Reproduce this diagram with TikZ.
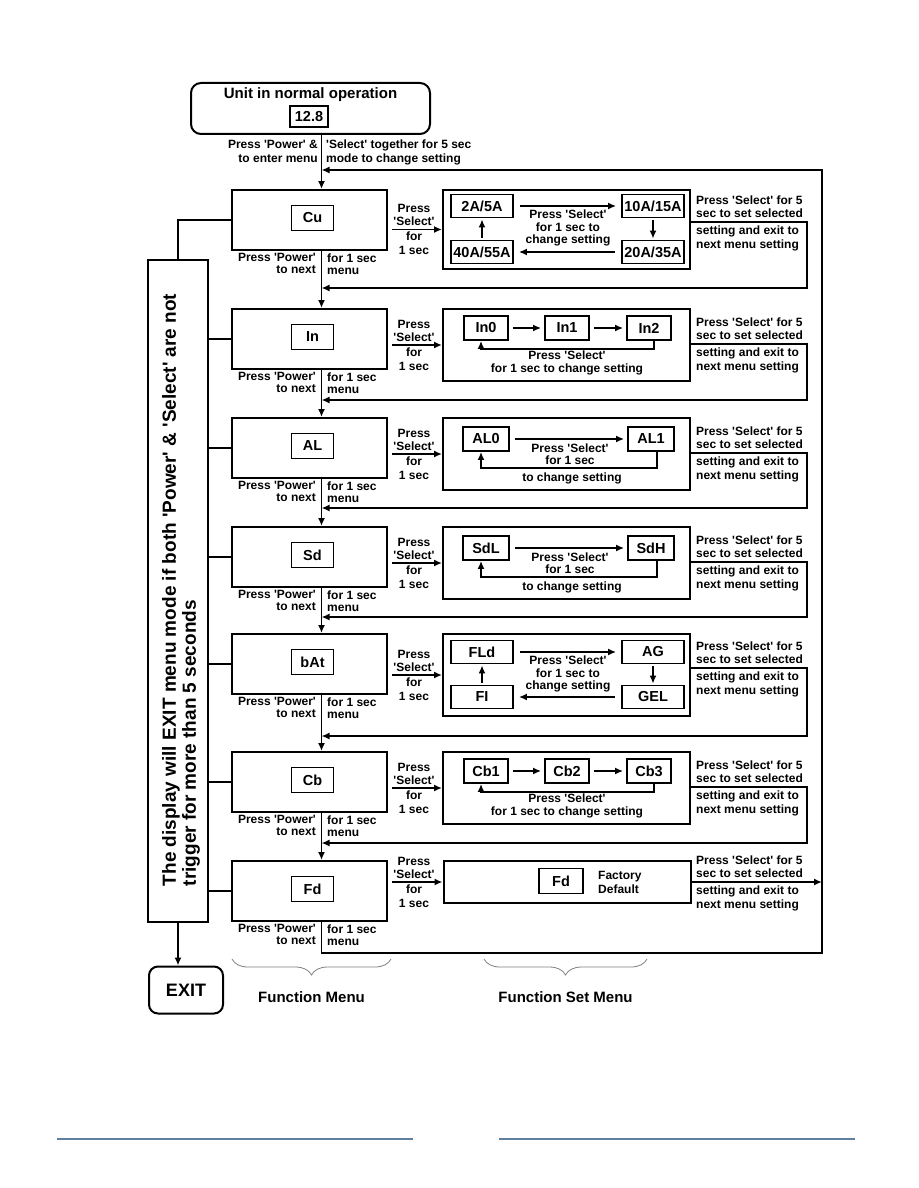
\documentclass[tikz,border=0pt]{standalone}
\usepackage{fontspec}
\setmainfont{Liberation Sans}[Ligatures=TeXOff]
\usetikzlibrary{arrows.meta,decorations.pathreplacing}
\definecolor{footblue}{HTML}{5F7F9F}

\begin{document}
\begin{tikzpicture}[x=1pt,y=-1pt,
  >={Latex[length=8pt,width=7pt]},
  line/.style={line width=1.8pt},
  conn/.style={line width=1.8pt,->},
  menubox/.style={draw,line width=2pt,minimum width=155pt,minimum height=60pt},
  setbox/.style={draw,line width=2pt,minimum width=247pt},
  valbox/.style={draw,line width=1.8pt,font=\fontsize{14.5}{16}\selectfont\bfseries,inner xsep=2pt,inner ysep=0pt,minimum height=23pt},
  note/.style={font=\fontsize{12}{13.5}\selectfont\bfseries,inner sep=0pt},
  tight/.style={font=\fontsize{12}{12}\selectfont\bfseries,inner sep=0pt},
  title/.style={font=\fontsize{15}{17}\selectfont\bfseries,inner sep=0pt},
  brace/.style={draw=gray,line width=0.8pt,decorate,decoration={brace,mirror,amplitude=16pt}}
]

\useasboundingbox (0,0) rectangle (918,1188);

\coordinate (spine) at (321.5,0);
\coordinate (rail) at (822,0);

% Unit in normal operation
\node[draw,line width=2pt,rounded corners=10pt,minimum width=239pt,minimum height=51pt] (unit) at (310.5,108.5) {};
\node[title] (unittxt) at (310.5,95) {Unit in normal operation};
\node[valbox,minimum width=38pt,minimum height=21pt] (unitval) at (309,116.5) {12.8};
\node[note,align=right,anchor=north east] (enterl) at (318,140) {Press 'Power' \&\\to enter menu};
\node[note,align=left,anchor=north west] (enterr) at (326,140) {'Select' together for 5 sec\\mode to change setting};

% Cu
\node[menubox] (menucu) at (309.5,220) {};
\node[valbox,minimum width=42pt,minimum height=25pt] (valcu) at (312.5,218) {Cu};
\node[tight,align=right,anchor=north east] (powcu) at (316,253.5) {Press 'Power'\\to next};
\node[tight,align=left,anchor=north west] (forcu) at (327,253.5) {for 1 sec\\menu};
\node[setbox,minimum height=79pt] (setcu) at (566.5,229.5) {};
\draw[conn] (menucu.east |- setcu.west) ++(4,0) -- (setcu.west);
\node[note,align=center,anchor=south] (selcu) at (414,226) {Press\\'Select'};
\node[note,align=center,anchor=north] (seccu) at (414,232) {for\\1 sec};
\node[valbox,minimum width=62pt] (cua) at (482,206) {2A/5A};
\node[valbox,minimum width=62pt] (cub) at (653,206) {10A/15A};
\node[valbox,minimum width=62pt] (cuc) at (653,252) {20A/35A};
\node[valbox,minimum width=62pt] (cud) at (482,252) {40A/55A};
\draw[conn,shorten <=6pt,shorten >=5pt] (cua) -- (cub);
\draw[conn,shorten <=2pt,shorten >=1pt] (cub) -- (cuc);
\draw[conn,shorten <=6pt,shorten >=5pt] (cuc) -- (cud);
\draw[conn,shorten <=2pt,shorten >=1pt] (cud) -- (cua);
\node[note,align=center,font=\fontsize{12}{12.5}\selectfont\bfseries] (txtcu) at (568,228) {Press 'Select'\\for 1 sec to\\change setting};
\node[note,align=left,anchor=south west] (holdcu) at (696,218) {Press 'Select' for 5\\sec to set selected};
\node[note,align=left,anchor=north west] (exitcu) at (696,226) {setting and exit to\\next menu setting};
\draw[conn] (setcu.east |- 0,222) -| (807,288) -- (spine |- 0,288);

% In
\node[menubox] (menuin) at (309.5,339) {};
\node[valbox,minimum width=42pt,minimum height=25pt] (valin) at (312.5,337) {In};
\node[tight,align=right,anchor=north east] (powin) at (316,372.5) {Press 'Power'\\to next};
\node[tight,align=left,anchor=north west] (forin) at (327,372.5) {for 1 sec\\menu};
\node[setbox,minimum height=72pt] (setin) at (566.5,345) {};
\draw[conn] (menuin.east |- setin.west) ++(4,0) -- (setin.west);
\node[note,align=center,anchor=south] (selin) at (414,342) {Press\\'Select'};
\node[note,align=center,anchor=north] (secin) at (414,348) {for\\1 sec};
\node[valbox,minimum width=44pt,minimum height=24pt] (in0) at (486,328) {In0};
\node[valbox,minimum width=44pt,minimum height=24pt] (in1) at (567,328) {In1};
\node[valbox,minimum width=44pt,minimum height=24pt] (in2) at (649,328) {In2};
\draw[conn,shorten <=4pt,shorten >=3pt] (in0) -- (in1);
\draw[conn,shorten <=4pt,shorten >=3pt] (in1) -- (in2);
\coordinate (inback) at ([xshift=5pt]in2.south);
\coordinate (inhome) at ([xshift=-5pt]in0.south);
\draw[conn] (inback) -- ++(0,8) -| (inhome);
\node[note] (txtin) at (567,355) {Press 'Select'};
\node[note] (txtin2) at (567,369) {for 1 sec to change setting};
\node[note,align=left,anchor=south west] (holdin) at (696,340) {Press 'Select' for 5\\sec to set selected};
\node[note,align=left,anchor=north west] (exitin) at (696,348) {setting and exit to\\next menu setting};
\draw[conn] (setin.east |- 0,344) -| (807,400) -- (spine |- 0,400);

% AL
\node[menubox] (menual) at (309.5,448) {};
\node[valbox,minimum width=42pt,minimum height=25pt] (valal) at (312.5,446) {AL};
\node[tight,align=right,anchor=north east] (powal) at (316,481.5) {Press 'Power'\\to next};
\node[tight,align=left,anchor=north west] (foral) at (327,481.5) {for 1 sec\\menu};
\node[setbox,minimum height=72pt] (setal) at (566.5,454) {};
\draw[conn] (menual.east |- setal.west) ++(4,0) -- (setal.west);
\node[note,align=center,anchor=south] (selal) at (414,451) {Press\\'Select'};
\node[note,align=center,anchor=north] (secal) at (414,457) {for\\1 sec};
\node[valbox,minimum width=46pt,minimum height=24pt] (al0) at (486,439) {AL0};
\node[valbox,minimum width=46pt,minimum height=24pt] (al1) at (651,439) {AL1};
\draw[conn,shorten <=5pt,shorten >=3pt] (al0) -- (al1);
\coordinate (alback) at ([xshift=6pt]al1.south);
\coordinate (alhome) at ([xshift=-5pt]al0.south);
\draw[conn] (alback) -- ++(0,16) -| (alhome);
\node[note,align=center,font=\fontsize{12}{12.5}\selectfont\bfseries] (txtal) at (570,454) {Press 'Select'\\for 1 sec};
\node[note] (txtal2) at (572,478.5) {to change setting};
\node[note,align=left,anchor=south west] (holdal) at (696,449) {Press 'Select' for 5\\sec to set selected};
\node[note,align=left,anchor=north west] (exital) at (696,457) {setting and exit to\\next menu setting};
\draw[conn] (setal.east |- 0,453) -| (807,508) -- (spine |- 0,508);

% Sd
\node[menubox] (menusd) at (309.5,557) {};
\node[valbox,minimum width=42pt,minimum height=25pt] (valsd) at (312.5,555) {Sd};
\node[tight,align=right,anchor=north east] (powsd) at (316,590.5) {Press 'Power'\\to next};
\node[tight,align=left,anchor=north west] (forsd) at (327,590.5) {for 1 sec\\menu};
\node[setbox,minimum height=72pt] (setsd) at (566.5,563) {};
\draw[conn] (menusd.east |- setsd.west) ++(4,0) -- (setsd.west);
\node[note,align=center,anchor=south] (selsd) at (414,560) {Press\\'Select'};
\node[note,align=center,anchor=north] (secsd) at (414,566) {for\\1 sec};
\node[valbox,minimum width=46pt,minimum height=24pt] (sdl) at (486,548) {SdL};
\node[valbox,minimum width=46pt,minimum height=24pt] (sdh) at (651,548) {SdH};
\draw[conn,shorten <=5pt,shorten >=3pt] (sdl) -- (sdh);
\coordinate (sdback) at ([xshift=6pt]sdh.south);
\coordinate (sdhome) at ([xshift=-5pt]sdl.south);
\draw[conn] (sdback) -- ++(0,16) -| (sdhome);
\node[note,align=center,font=\fontsize{12}{12.5}\selectfont\bfseries] (txtsd) at (570,563) {Press 'Select'\\for 1 sec};
\node[note] (txtsd2) at (572,587.5) {to change setting};
\node[note,align=left,anchor=south west] (holdsd) at (696,558) {Press 'Select' for 5\\sec to set selected};
\node[note,align=left,anchor=north west] (exitsd) at (696,566) {setting and exit to\\next menu setting};
\draw[conn] (setsd.east |- 0,562) -| (807,617) -- (spine |- 0,617);

% bAt
\node[menubox] (menubat) at (309.5,664) {};
\node[valbox,minimum width=42pt,minimum height=25pt] (valbat) at (312.5,662) {bAt};
\node[tight,align=right,anchor=north east] (powbat) at (316,697.5) {Press 'Power'\\to next};
\node[tight,align=left,anchor=north west] (forbat) at (327,697.5) {for 1 sec\\menu};
\node[setbox,minimum height=82pt] (setbat) at (566.5,675) {};
\draw[conn] (menubat.east |- setbat.west) ++(4,0) -- (setbat.west);
\node[note,align=center,anchor=south] (selbat) at (414,672) {Press\\'Select'};
\node[note,align=center,anchor=north] (secbat) at (414,678) {for\\1 sec};
\node[valbox,minimum width=62pt] (fld) at (482,652) {FLd};
\node[valbox,minimum width=62pt] (ag) at (653,652) {AG};
\node[valbox,minimum width=62pt] (gel) at (653,697) {GEL};
\node[valbox,minimum width=62pt] (fi) at (482,697) {FI};
\draw[conn,shorten <=6pt,shorten >=5pt] (fld) -- (ag);
\draw[conn,shorten <=2pt,shorten >=1pt] (ag) -- (gel);
\draw[conn,shorten <=6pt,shorten >=5pt] (gel) -- (fi);
\draw[conn,shorten <=2pt,shorten >=1pt] (fi) -- (fld);
\node[note,align=center,font=\fontsize{12}{12.5}\selectfont\bfseries] (txtbat) at (568,674) {Press 'Select'\\for 1 sec to\\change setting};
\node[note,align=left,anchor=south west] (holdbat) at (696,664) {Press 'Select' for 5\\sec to set selected};
\node[note,align=left,anchor=north west] (exitbat) at (696,672) {setting and exit to\\next menu setting};
\draw[conn] (setbat.east |- 0,668) -| (807,736) -- (spine |- 0,736);

% Cb
\node[menubox] (menucb) at (309.5,782) {};
\node[valbox,minimum width=42pt,minimum height=25pt] (valcb) at (312.5,780) {Cb};
\node[tight,align=right,anchor=north east] (powcb) at (316,815.5) {Press 'Power'\\to next};
\node[tight,align=left,anchor=north west] (forcb) at (327,815.5) {for 1 sec\\menu};
\node[setbox,minimum height=72pt] (setcb) at (566.5,788) {};
\draw[conn] (menucb.east |- setcb.west) ++(4,0) -- (setcb.west);
\node[note,align=center,anchor=south] (selcb) at (414,785) {Press\\'Select'};
\node[note,align=center,anchor=north] (seccb) at (414,791) {for\\1 sec};
\node[valbox,minimum width=44pt,minimum height=24pt] (cb1) at (486,771) {Cb1};
\node[valbox,minimum width=44pt,minimum height=24pt] (cb2) at (567,771) {Cb2};
\node[valbox,minimum width=44pt,minimum height=24pt] (cb3) at (649,771) {Cb3};
\draw[conn,shorten <=4pt,shorten >=3pt] (cb1) -- (cb2);
\draw[conn,shorten <=4pt,shorten >=3pt] (cb2) -- (cb3);
\coordinate (cbback) at ([xshift=5pt]cb3.south);
\coordinate (cbhome) at ([xshift=-5pt]cb1.south);
\draw[conn] (cbback) -- ++(0,8) -| (cbhome);
\node[note] (txtcb) at (567,798) {Press 'Select'};
\node[note] (txtcb2) at (567,812) {for 1 sec to change setting};
\node[note,align=left,anchor=south west] (holdcb) at (696,783) {Press 'Select' for 5\\sec to set selected};
\node[note,align=left,anchor=north west] (exitcb) at (696,791) {setting and exit to\\next menu setting};
\draw[conn] (setcb.east |- 0,787) -| (807,843) -- (spine |- 0,843);

% Fd
\node[menubox] (menufd) at (309.5,891) {};
\node[valbox,minimum width=42pt,minimum height=25pt] (valfd) at (312.5,889) {Fd};
\node[tight,align=right,anchor=north east] (powfd) at (316,924.5) {Press 'Power'\\to next};
\node[tight,align=left,anchor=north west] (forfd) at (327,924.5) {for 1 sec\\menu};
\node[setbox,minimum height=42pt] (setfd) at (567,882) {};
\draw[conn] (menufd.east |- setfd.west) ++(4,0) -- (setfd.west);
\node[note,align=center,anchor=south] (selfd) at (414,879) {Press\\'Select'};
\node[note,align=center,anchor=north] (secfd) at (414,885) {for\\1 sec};
\node[valbox,minimum width=44pt,minimum height=25pt] (fdval) at (561,881) {Fd};
\node[note,align=left,anchor=west,font=\fontsize{12}{14}\selectfont\bfseries] (factory) at (598,882) {Factory\\Default};
\node[note,align=left,anchor=south west] (holdfd) at (696,878) {Press 'Select' for 5\\sec to set selected};
\node[note,align=left,anchor=north west] (exitfd) at (696,886) {setting and exit to\\next menu setting};
\draw[conn] (setfd.east) -- (rail |- setfd.east);

% spine and return rail
\draw[conn] (unit.south -| spine) -- (menucu.north -| spine);
\draw[conn] (menucu.south -| spine) -- (menuin.north -| spine);
\draw[conn] (menuin.south -| spine) -- (menual.north -| spine);
\draw[conn] (menual.south -| spine) -- (menusd.north -| spine);
\draw[conn] (menusd.south -| spine) -- (menubat.north -| spine);
\draw[conn] (menubat.south -| spine) -- (menucb.north -| spine);
\draw[conn] (menucb.south -| spine) -- (menufd.north -| spine);
\draw[conn] (menufd.south -| spine) |- (rail |- 0,953) -- (rail |- 0,170) -- (spine |- 0,170);

% time-out box and exit
\node[draw,line width=2pt,minimum width=60pt,minimum height=662pt] (exitbox) at (178,591) {};
\node[rotate=90,align=left,font=\fontsize{19}{20}\selectfont\bfseries,inner sep=0pt] (exitnote) at (181,590) {The display will EXIT menu mode if both 'Power' \& 'Select' are not\\trigger for more than 5 seconds};
\draw[line] (exitbox.north) |- (menucu.west);
\draw[line] (exitbox.east |- menuin.west) -- (menuin.west);
\draw[line] (exitbox.east |- menual.west) -- (menual.west);
\draw[line] (exitbox.east |- menusd.west) -- (menusd.west);
\draw[line] (exitbox.east |- menubat.west) -- (menubat.west);
\draw[line] (exitbox.east |- menucb.west) -- (menucb.west);
\draw[line] (exitbox.east |- menufd.west) -- (menufd.west);
\node[draw,line width=2pt,rounded corners=9pt,minimum width=74pt,minimum height=47pt,font=\fontsize{18}{20}\selectfont\bfseries] (exit) at (186,990) {EXIT};
\draw[conn] (exitbox.south) -- (exitbox.south |- exit.north);

% braces
\draw[brace] (232,959) -- (391,959);
\node[title] (fmenu) at (311.5,997) {Function Menu};
\draw[brace] (484,959) -- (647,959);
\node[title] (fset) at (565.5,997) {Function Set Menu};

% page rules
\draw[footblue,line width=1.2pt] (57,1139) -- (413,1139);
\draw[footblue,line width=1.2pt] (499,1139) -- (855,1139);

\end{tikzpicture}
\end{document}
